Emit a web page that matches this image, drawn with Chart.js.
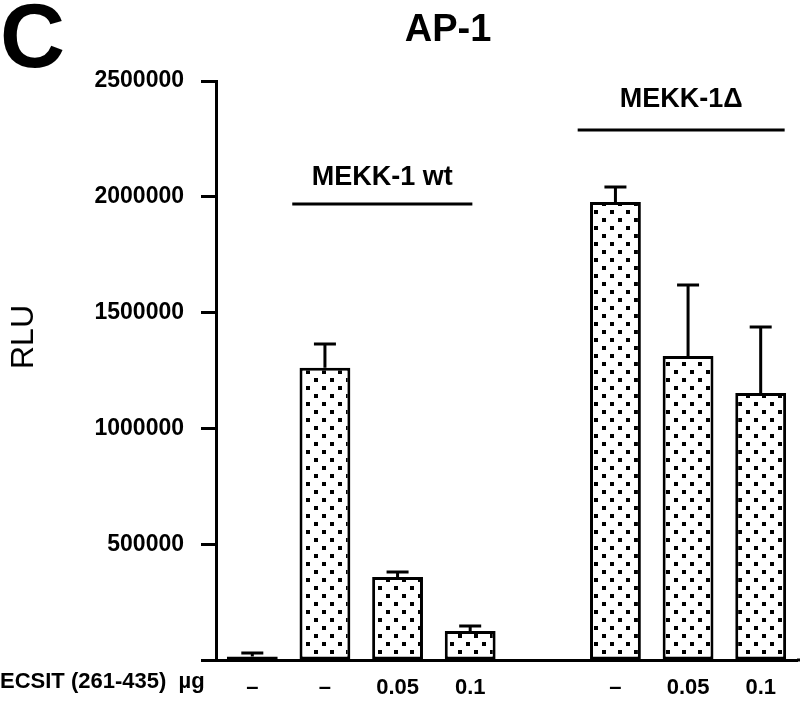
<!DOCTYPE html>
<html>
<head>
    <title>AP-1</title>
    <style>
        body {
            margin: 0;
            background: white;
        }
        .chart-box {
            width: 800px;
            height: 705px;
        }
    </style>
</head>
<body>
    <div class="chart-box">
        <canvas id="ap1Chart" width="800" height="705"></canvas>
    </div>

    <script src="https://cdn.jsdelivr.net/npm/chart.js"></script>
    <script>
        // data
        const doseLabels = ['–', '–', '0.05', '0.1', '', '–', '0.05', '0.1'];
        const rluValues = [15000, 1262000, 358000, 125000, null, 1978000, 1313000, 1153000];
        const rluErrors = [15000, 102000, 22000, 22000, null, 64000, 306000, 285000];
        const yTicks = [0, 500000, 1000000, 1500000, 2000000, 2500000];
        const groups = [
            { name: 'MEKK-1 wt', from: 0.55, to: 3.03, textY: 185, lineY: 204 },
            { name: 'MEKK-1Δ', from: 4.48, to: 7.33, textY: 107, lineY: 130 }
        ];

        const FONT = '"Liberation Sans", Arial, Helvetica, sans-serif';

        function dotPattern() {
            const c = document.createElement('canvas');
            c.width = 16;
            c.height = 16;
            const g = c.getContext('2d');
            g.fillStyle = 'white';
            g.fillRect(0, 0, 16, 16);
            g.fillStyle = 'black';
            g.fillRect(2, 2, 4, 4);
            g.fillRect(10, 10, 4, 4);
            return g.createPattern(c, 'repeat');
        }

        // error bars, group labels and the loose texts
        const extras = {
            id: 'extras',
            afterDatasetsDraw(chart) {
                const ctx = chart.ctx;
                const x = chart.scales.x;
                const y = chart.scales.y;
                ctx.save();
                ctx.strokeStyle = 'black';
                ctx.lineWidth = 3;
                rluValues.forEach((v, i) => {
                    if (v === null) return;
                    const px = x.getPixelForValue(i);
                    const top = y.getPixelForValue(v);
                    const end = y.getPixelForValue(v + rluErrors[i]);
                    ctx.beginPath();
                    ctx.moveTo(px, top);
                    ctx.lineTo(px, end);
                    ctx.moveTo(px - 11, end);
                    ctx.lineTo(px + 11, end);
                    ctx.stroke();
                });

                // baseline runs on to the right edge
                ctx.beginPath();
                ctx.moveTo(chart.chartArea.right, chart.chartArea.bottom);
                ctx.lineTo(chart.width, chart.chartArea.bottom);
                ctx.stroke();

                ctx.fillStyle = 'black';
                ctx.textAlign = 'center';
                ctx.textBaseline = 'alphabetic';
                groups.forEach(gr => {
                    const x1 = x.getPixelForValue(gr.from);
                    const x2 = x.getPixelForValue(gr.to);
                    ctx.font = 'bold 27px ' + FONT;
                    ctx.fillText(gr.name, (x1 + x2) / 2, gr.textY);
                    ctx.beginPath();
                    ctx.moveTo(x1, gr.lineY);
                    ctx.lineTo(x2, gr.lineY);
                    ctx.stroke();
                });

                ctx.font = 'bold 38px ' + FONT;
                ctx.fillText('AP-1', 448, 41);

                ctx.textAlign = 'left';
                ctx.font = 'bold 90px ' + FONT;
                ctx.fillText('C', 0, 67);

                ctx.font = 'bold 22px ' + FONT;
                ctx.fillText('ECSIT (261-435)  µg', 0, 688);

                ctx.save();
                ctx.translate(33, 337);
                ctx.rotate(-Math.PI / 2);
                ctx.textAlign = 'center';
                ctx.font = '32px ' + FONT;
                ctx.fillText('RLU', 0, 0);
                ctx.restore();

                ctx.restore();
            }
        };

        const ctx = document.getElementById('ap1Chart').getContext('2d');
        new Chart(ctx, {
            type: 'bar',
            data: {
                labels: doseLabels,
                datasets: [{
                    label: 'RLU',
                    data: rluValues,
                    backgroundColor: dotPattern(),
                    borderColor: 'black',
                    borderWidth: 3,
                    borderSkipped: false,
                    barPercentage: 0.7,
                    categoryPercentage: 1
                }]
            },
            options: {
                responsive: false,
                animation: false,
                layout: {
                    padding: { top: 81, right: 3, left: 0, bottom: 0 }
                },
                plugins: {
                    legend: { display: false },
                    tooltip: { enabled: false }
                },
                scales: {
                    x: {
                        grid: { display: false },
                        border: { display: true, color: 'black', width: 3 },
                        ticks: {
                            color: 'black',
                            padding: 7,
                            maxRotation: 0,
                            autoSkip: false,
                            font: { family: FONT, size: 22, weight: 'bold' }
                        },
                        afterFit(scale) { scale.height = 45; }
                    },
                    y: {
                        min: 0,
                        max: 2500000,
                        afterBuildTicks(scale) {
                            scale.ticks = yTicks.map(v => ({ value: v }));
                        },
                        grid: {
                            drawOnChartArea: false,
                            drawTicks: true,
                            tickLength: 15,
                            tickWidth: 3,
                            tickColor: 'black'
                        },
                        border: { display: true, color: 'black', width: 3 },
                        ticks: {
                            color: 'black',
                            padding: 17,
                            font: { family: FONT, size: 23, weight: 'bold' },
                            callback: v => (v === 0 ? '' : String(v))
                        },
                        afterFit(scale) { scale.width = 216; }
                    }
                }
            },
            plugins: [extras]
        });
    </script>
</body>
</html>
